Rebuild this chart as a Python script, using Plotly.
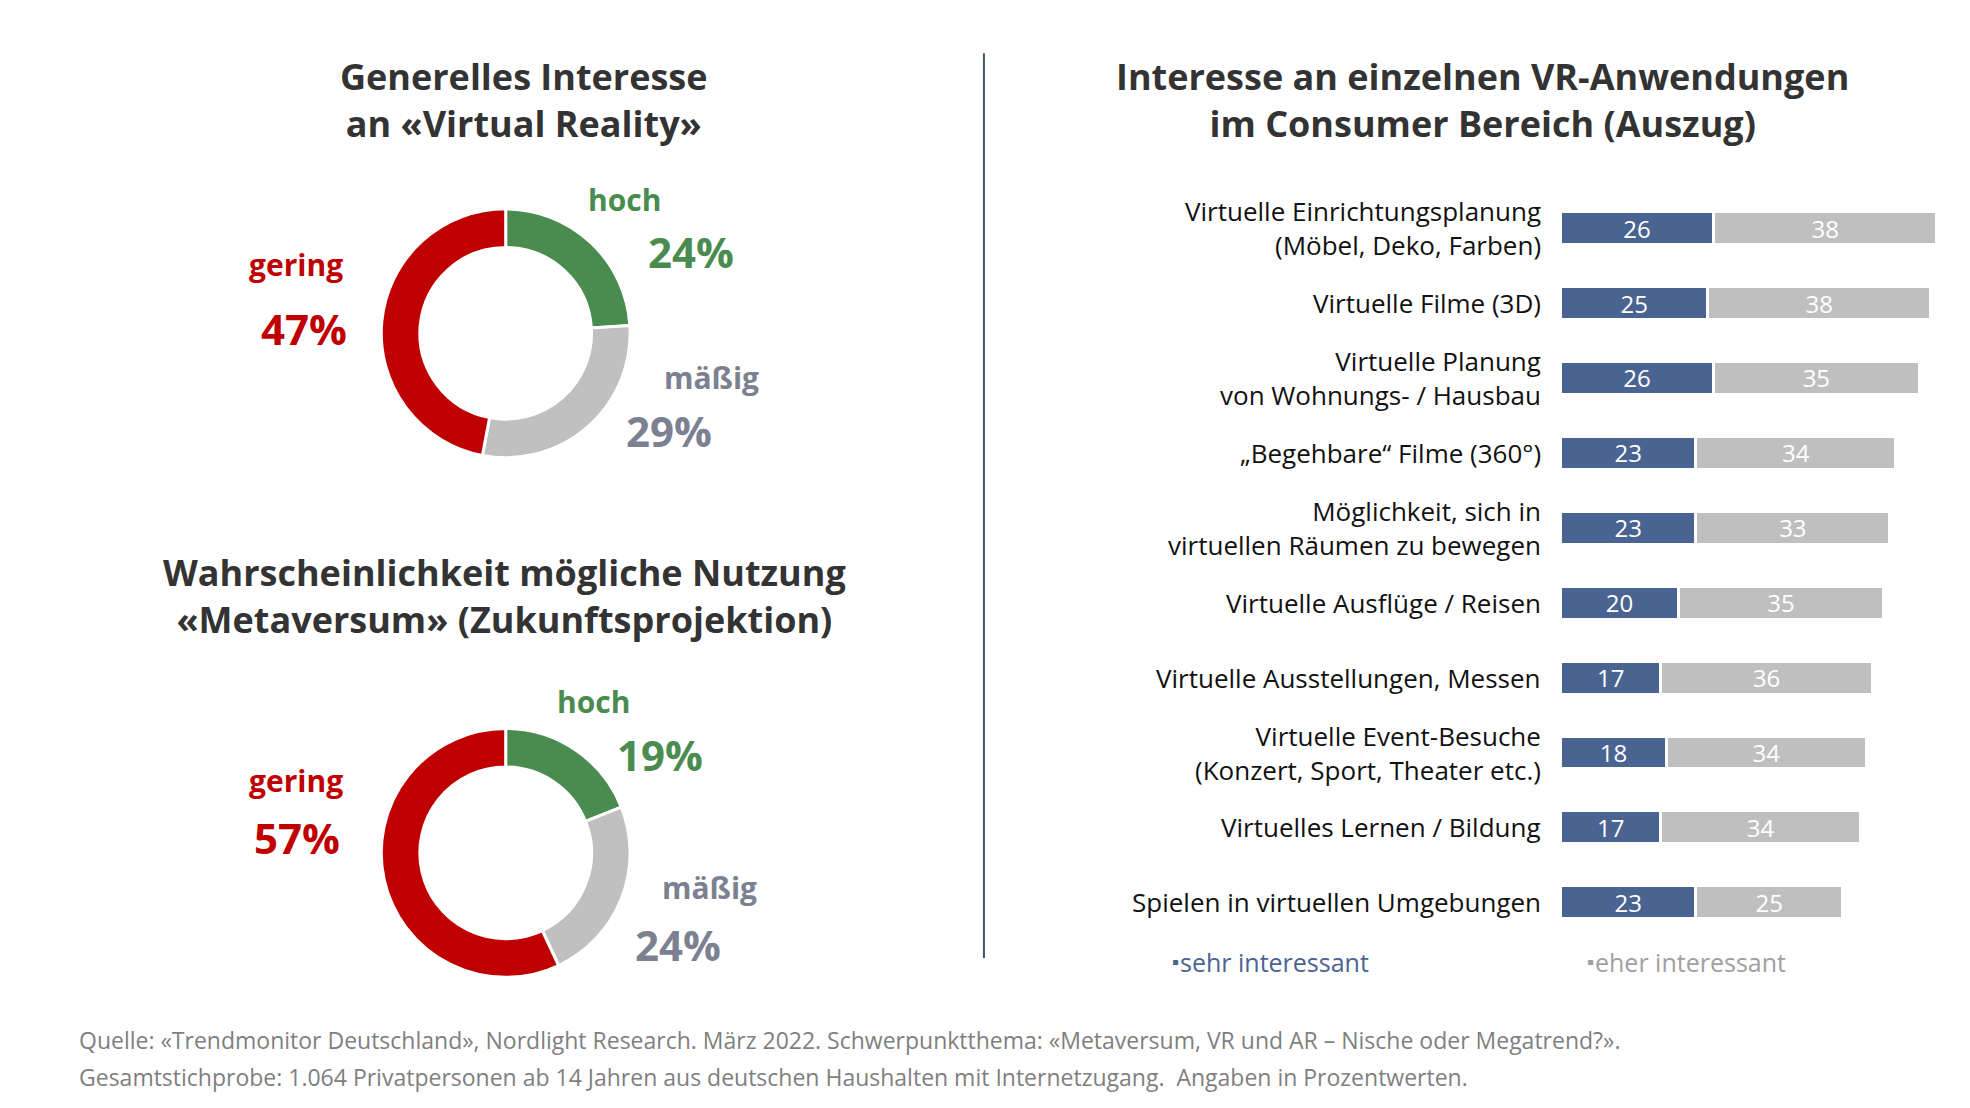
import plotly.graph_objects as go

W, H = 1520.0, 855.0  # reference layout grid


def px(x, y):
    return x / W, 1 - y / H


# --- data ---
donut_labels = ["hoch", "mäßig", "gering"]
vr_interest = [24, 29, 47]
metaverse_use = [19, 24, 57]

apps = [
    "Virtuelle Einrichtungsplanung<br>(Möbel, Deko, Farben)",
    "Virtuelle Filme (3D)",
    "Virtuelle Planung<br>von Wohnungs- / Hausbau",
    "„Begehbare“ Filme (360°)",
    "Möglichkeit, sich in<br>virtuellen Räumen zu bewegen",
    "Virtuelle Ausflüge / Reisen",
    "Virtuelle Ausstellungen, Messen",
    "Virtuelle Event-Besuche<br>(Konzert, Sport, Theater etc.)",
    "Virtuelles Lernen / Bildung",
    "Spielen in virtuellen Umgebungen",
]
sehr = [26, 25, 26, 23, 23, 20, 17, 18, 17, 23]
eher = [38, 38, 35, 34, 33, 35, 36, 34, 34, 25]

GREEN, GREY, RED = "#4a8c50", "#c0c0c0", "#c00000"
BLUE, BARGREY = "#4a6491", "#bfbfbf"
LABGREY = "#7b8190"
FONT = "Open Sans"

fig = go.Figure()

for vals, cy in [(vr_interest, 251), (metaverse_use, 652)]:
    x0, y0 = px(384 - 96, cy + 96)
    x1, y1 = px(384 + 96, cy - 96)
    fig.add_trace(go.Pie(values=vals, labels=donut_labels, hole=0.69, sort=False,
                         direction="clockwise", rotation=0, textinfo="none",
                         marker=dict(colors=[GREEN, GREY, RED], line=dict(color="white", width=3)),
                         domain=dict(x=[x0, x1], y=[y0, y1]), showlegend=False, hoverinfo="label+value"))

for vals, col in [(sehr, BLUE), (eher, BARGREY)]:
    fig.add_trace(go.Bar(y=apps, x=vals, orientation="h", marker=dict(color=col, line=dict(color="white", width=3)),
                         text=vals, textposition="inside", insidetextanchor="middle", textangle=0,
                         textfont=dict(color="white", size=24, family=FONT), width=0.44, showlegend=False))

annotations = []


def note(x, y, text, size, color, bold=False, xanchor="center", align="center"):
    xp, yp = px(x, y)
    if bold:
        text = "<b>" + text + "</b>"
    annotations.append(dict(x=xp, y=yp, xref="paper", yref="paper", text=text, showarrow=False,
                            xanchor=xanchor, yanchor="middle", align=align,
                            font=dict(size=size, color=color, family=FONT)))


# titles
note(398, 71, "Generelles Interesse<br>an «Virtual Reality»", 36, "#333333", True)
note(383, 454, "Wahrscheinlichkeit mögliche Nutzung<br>«Metaversum» (Zukunftsprojektion)", 36, "#333333", True)
note(1138, 71, "Interesse an einzelnen VR-Anwendungen<br>im Consumer Bereich (Auszug)", 36, "#333333", True)

# donut labels
for (lx, ly, t, s, c) in [
    (476, 148, "hoch", 30, GREEN), (527, 188, "24%", 42, GREEN),
    (222, 198, "gering", 30, RED), (228, 247, "47%", 42, RED),
    (543, 285, "mäßig", 30, LABGREY), (510, 326, "29%", 42, LABGREY),
    (452, 535, "hoch", 30, GREEN), (503, 576, "19%", 42, GREEN),
    (222, 596, "gering", 30, RED), (223, 640, "57%", 42, RED),
    (541, 679, "mäßig", 30, LABGREY), (517, 723, "24%", 42, LABGREY),
]:
    note(lx, ly, t, s, c, True)

# bar category labels
for name in apps:
    annotations.append(dict(x=1184 / W, y=name, xref="paper", yref="y", text=name, showarrow=False,
                            xanchor="right", yanchor="middle", align="right",
                            font=dict(size=26, color="#111111", family=FONT)))

# legend
note(903, 736, "sehr interessant", 25, BLUE, xanchor="left")
note(1223, 736, "eher interessant", 25, "#a0a0a0", xanchor="left")
note(905, 736, "▪", 20, BLUE, xanchor="right")
note(1225, 736, "▪", 20, "#a0a0a0", xanchor="right")

# source
note(53, 796, "Quelle: «Trendmonitor Deutschland», Nordlight Research. März 2022. Schwerpunktthema: «Metaversum, VR und AR – Nische oder Megatrend?».",
     23, "#7f7f7f", xanchor="left", align="left")
note(53, 825, "Gesamtstichprobe: 1.064 Privatpersonen ab 14 Jahren aus deutschen Haushalten mit Internetzugang.  Angaben in Prozentwerten.",
     23, "#7f7f7f", xanchor="left", align="left")

lx0, ly0 = px(753, 35)
lx1, ly1 = px(753, 733)
bx0, by_top = px(1198, 141)
_, by_bot = px(1198, 719)

fig.update_layout(
    width=1970, height=1108, margin=dict(l=0, r=0, t=0, b=0),
    paper_bgcolor="white", plot_bgcolor="white", barmode="stack", bargap=0.56,
    uniformtext=dict(minsize=20, mode="show"),
    xaxis=dict(domain=[bx0, 1.0], range=[0, 71], visible=False),
    yaxis=dict(domain=[by_bot, by_top], autorange="reversed", showticklabels=False,
               showgrid=False, zeroline=False),
    annotations=annotations,
    shapes=[dict(type="line", xref="paper", yref="paper", x0=lx0, x1=lx1, y0=ly0, y1=ly1,
                 line=dict(color="#44546a", width=2))],
)

fig.write_html("out.html")
